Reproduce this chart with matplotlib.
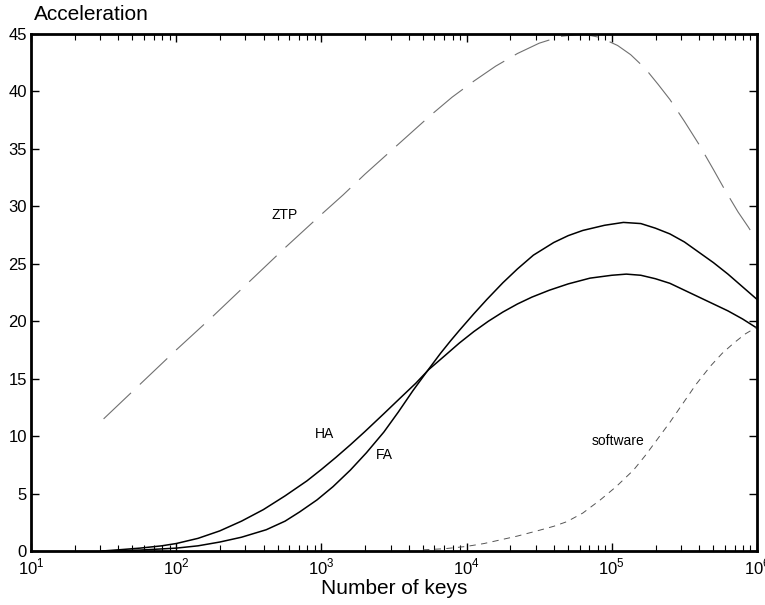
import numpy as np
import matplotlib
matplotlib.use("Agg")
import matplotlib.pyplot as plt
from matplotlib.ticker import LogLocator, FixedLocator

plt.rcParams['font.family'] = ['Liberation Sans', 'DejaVu Sans']
plt.rcParams['mathtext.fontset'] = 'custom'
plt.rcParams['mathtext.rm'] = 'Liberation Sans'

# ---- data (log10 of number of keys, acceleration) ----
ztp_logx = [1.50, 1.75, 2.00, 2.25, 2.50, 2.75, 3.00, 3.15, 3.30, 3.45, 3.60, 3.75, 3.90,
            4.05, 4.20, 4.35, 4.50, 4.65, 4.80, 4.92, 5.04, 5.13, 5.23, 5.32, 5.40, 5.50,
            5.60, 5.70, 5.78, 5.87, 5.94, 6.00]
ztp_y    = [11.5, 14.5, 17.5, 20.4, 23.4, 26.4, 29.3, 31.0, 32.8, 34.5, 36.2, 37.9, 39.5,
            40.9, 42.2, 43.3, 44.2, 44.8, 45.0, 44.7, 44.0, 43.2, 42.0, 40.6, 39.3, 37.4,
            35.4, 33.2, 31.4, 29.5, 28.2, 27.0]

ha_logx = [1.49, 1.60, 1.75, 1.90, 2.00, 2.15, 2.30, 2.45, 2.60, 2.75, 2.90, 3.00, 3.10,
           3.20, 3.30, 3.43, 3.55, 3.65, 3.74, 3.85, 3.95, 4.05, 4.15, 4.25, 4.35, 4.45,
           4.57, 4.70, 4.85, 5.00, 5.10, 5.20, 5.30, 5.40, 5.50, 5.60, 5.70, 5.80, 5.90, 6.00]
ha_y    = [0.0, 0.1, 0.25, 0.45, 0.65, 1.1, 1.75, 2.6, 3.6, 4.8, 6.1, 7.1, 8.15,
           9.25, 10.4, 11.95, 13.4, 14.6, 15.8, 17.0, 18.1, 19.1, 20.0, 20.8, 21.5, 22.1,
           22.7, 23.25, 23.75, 24.0, 24.1, 24.0, 23.7, 23.3, 22.7, 22.1, 21.5, 20.9, 20.2, 19.4]

fa_logx = [1.49, 1.75, 2.00, 2.15, 2.30, 2.45, 2.62, 2.75, 2.85, 2.97, 3.08, 3.20, 3.31,
           3.43, 3.53, 3.63, 3.74, 3.82, 3.89, 3.95, 4.05, 4.14, 4.25, 4.35, 4.46, 4.60,
           4.70, 4.80, 4.95, 5.08, 5.20, 5.30, 5.40, 5.50, 5.60, 5.70, 5.80, 5.90, 6.00]
fa_y    = [0.0, 0.08, 0.25, 0.45, 0.78, 1.2, 1.85, 2.6, 3.4, 4.45, 5.6, 7.05, 8.55,
           10.35, 12.1, 13.95, 15.85, 17.2, 18.3, 19.2, 20.65, 21.9, 23.35, 24.55, 25.75, 26.85,
           27.45, 27.9, 28.35, 28.6, 28.5, 28.1, 27.6, 26.9, 26.0, 25.1, 24.1, 23.0, 21.9]

sw_logx = [3.70, 3.85, 4.00, 4.12, 4.23, 4.35, 4.50, 4.60, 4.69, 4.80, 4.92, 5.03, 5.15,
           5.23, 5.31, 5.40, 5.49, 5.58, 5.68, 5.76, 5.84, 5.92, 6.00]
sw_y    = [0.1, 0.2, 0.4, 0.65, 0.96, 1.3, 1.8, 2.15, 2.55, 3.3, 4.44, 5.6, 7.05,
           8.3, 9.66, 11.2, 12.85, 14.5, 16.1, 17.2, 18.1, 18.9, 19.5]

xtick_exps = [1, 2, 3, 4, 5, 6]
ytick_vals = [0, 5, 10, 15, 20, 25, 30, 35, 40, 45]

fig = plt.figure(figsize=(7.65, 6.05), dpi=100)
ax = fig.add_axes([31/765, 54/605, (757-31)/765, (551-34)/605])

def k(lx):
    return 10 ** np.asarray(lx)

ax.plot(k(ztp_logx), ztp_y, color='#707070', lw=0.8, dashes=(34, 11))
ax.plot(k(ha_logx), ha_y, color='black', lw=1.1)
ax.plot(k(fa_logx), fa_y, color='black', lw=1.1)
ax.plot(k(sw_logx), sw_y, color='#555555', lw=0.7, dashes=(6.5, 5.5))

ax.set_xscale('log')
ax.set_xlim(10, 1e6)
ax.set_ylim(0, 45)
ax.xaxis.set_major_locator(FixedLocator([10.0**e for e in xtick_exps]))
ax.xaxis.set_minor_locator(LogLocator(base=10, subs=np.arange(2, 10), numticks=20))
ax.set_xticklabels([r'$10^{%d}$' % e for e in xtick_exps])
ax.set_yticks(ytick_vals)
ax.set_yticklabels([str(v) for v in ytick_vals])

ax.tick_params(which='both', direction='in', top=True, right=True, colors='black')
ax.tick_params(which='major', length=6, width=1.0, labelsize=12, pad=3)
ax.tick_params(which='minor', length=4.5, width=0.8)
ax.tick_params(axis='x', which='major', pad=4)
for s in ax.spines.values():
    s.set_linewidth(2.0)

ax.set_xlabel('Number of keys', fontsize=15, labelpad=1)
fig.text(34/765, 1 - 14/605, 'Acceleration', fontsize=15, ha='left', va='center')

ax.text(10**(1 + (285-31)/145.2), (551-215)/11.49, 'ZTP', fontsize=10, ha='center', va='center')
ax.text(10**(1 + (325-31)/145.2), (551-434)/11.49, 'HA', fontsize=10, ha='center', va='center')
ax.text(10**(1 + (384-31)/145.2), (551-455)/11.49, 'FA', fontsize=10, ha='center', va='center')
ax.text(10**(1 + (618-31)/145.2), (551-441)/11.49, 'software', fontsize=10, ha='center', va='center')

fig.savefig('out.png', dpi=100)
